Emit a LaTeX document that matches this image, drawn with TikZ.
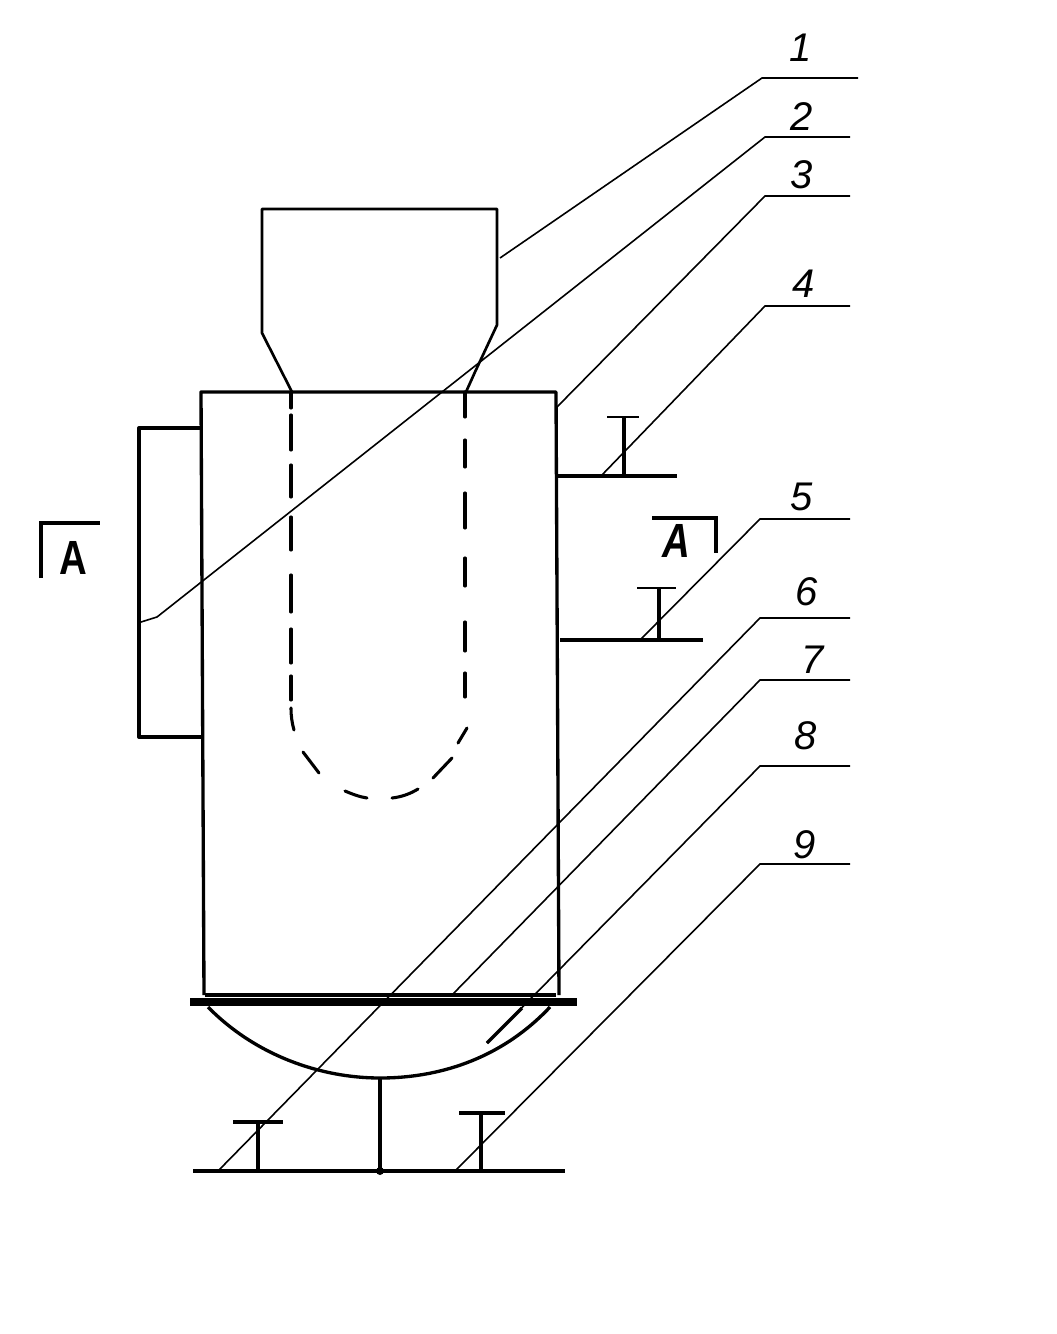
\documentclass[tikz,border=0pt]{standalone}
\usepackage{fontspec}
\setmainfont{Liberation Sans}
\usetikzlibrary{positioning}
\tikzset{
  wall/.style={line width=2.5pt, line join=round},
  thinwall/.style={line width=2pt, line join=round},
  tube/.style={line width=2.3pt, line cap=round},
  leader/.style={line width=1.2pt},
  tag/.style={font=\itshape\fontsize{30}{30}\selectfont, inner sep=0pt},
  cut/.style={font=\bfseries\fontsize{36}{36}\selectfont, inner sep=0pt, xscale=0.8},
}
\begin{document}
\begin{tikzpicture}[x=0.75pt, y=-0.75pt]
        \useasboundingbox (0,0) rectangle (1056,1334);

        % Nodes
        \node[tag] (n1) at (801,48) {1};
        \node[tag] (n2) at (802,117) {2};
        \node[tag] (n3) at (802,175) {3};
        \node[tag] (n4) at (804,284) {4};
        \node[tag] (n5) at (802,497) {5};
        \node[tag] (n6) at (807,592) {6};
        \node[tag] (n7) at (813,660) {7};
        \node[tag] (n8) at (806,736) {8};
        \node[tag] (n9) at (805,845) {9};
        \node[cut] (leftA) at (73,558) {A};
        \node[cut, font=\bfseries\itshape\fontsize{36}{36}\selectfont] (rightA) at (676,541) {A};

        % Hopper and body
        \draw[thinwall] (292,392) -- (262,333) -- (262,209) -- (497,209) -- (497,325) -- (475,372) -- (466,392);
        \draw[wall] (204,995) -- (201,392) -- (556,392) -- (559,995);
        \draw[wall] (201,428) -- (139,428) -- (139,737) -- (204,737);

        % Inner tube
        \foreach \ya/\yb in {392/408, 415/450, 465/497, 517/550, 575/612, 629/663, 676/700}
          \draw[tube] (291,\ya) -- (291,\yb);
        \foreach \ya/\yb in {392/417, 440/467, 493/528, 558/586, 622/651, 673/697}
          \draw[tube] (465,\ya) -- (465,\yb);
        \draw[tube] (291,708) .. controls (291,716) and (292,723) .. (294,730);
        \draw[tube] (303,752) -- (319,773);
        \draw[tube] (345,791) .. controls (352,794) and (360,797) .. (367,798);
        \draw[tube] (392,798) .. controls (401,797) and (410,794) .. (418,789);
        \draw[tube] (433,778) -- (452,758);
        \draw[tube] (458,743) -- (467,728);

        % Bottom
        \draw[wall] (205,995) -- (556,995);
        \draw[line width=6pt] (190,1002) -- (577,1002);
        \draw[wall] (208,1007) .. controls (255,1055) and (320,1078) .. (380,1078) .. controls (445,1078) and (505,1055) .. (550,1007);
        \draw[line width=3pt] (380,1078) -- (380,1171);
        \draw[wall] (193,1171) -- (565,1171);
        \fill (380,1171) circle (3pt);
        \draw[wall] (233,1122) -- (283,1122);
        \draw[wall] (258,1122) -- (258,1171);
        \draw[wall] (459,1113) -- (505,1113);
        \draw[wall] (481,1113) -- (481,1171);

        % Side supports
        \draw[wall] (558,476) -- (677,476);
        \draw[thinwall] (607,417) -- (639,417);
        \draw[wall] (624,417) -- (624,476);
        \draw[wall] (560,640) -- (703,640);
        \draw[thinwall] (637,588) -- (676,588);
        \draw[wall] (659,588) -- (659,640);

        % Section marks
        \draw[line width=3pt] (41,578) -- (41,523) -- (100,523);
        \draw[line width=3pt] (652,518) -- (716,518) -- (716,553);

        % Leaders
        \draw[leader] (858,78) -- (762,78) -- (500,258);
        \draw[leader] (850,137) -- (765,137) -- (157,617) -- (141,622);
        \draw[leader] (850,196) -- (765,196) -- (557,407);
        \draw[leader] (850,306) -- (765,306) -- (601,476);
        \draw[leader] (850,519) -- (760,519) -- (640,640);
        \draw[leader] (850,618) -- (760,618) -- (218,1171);
        \draw[leader] (850,680) -- (760,680) -- (452,995);
        \draw[leader] (850,766) -- (760,766) -- (487,1043);
        \draw[wall] (522,1008) -- (487,1043);
        \draw[leader] (850,864) -- (760,864) -- (455,1171);
    \end{tikzpicture}
\end{document}
